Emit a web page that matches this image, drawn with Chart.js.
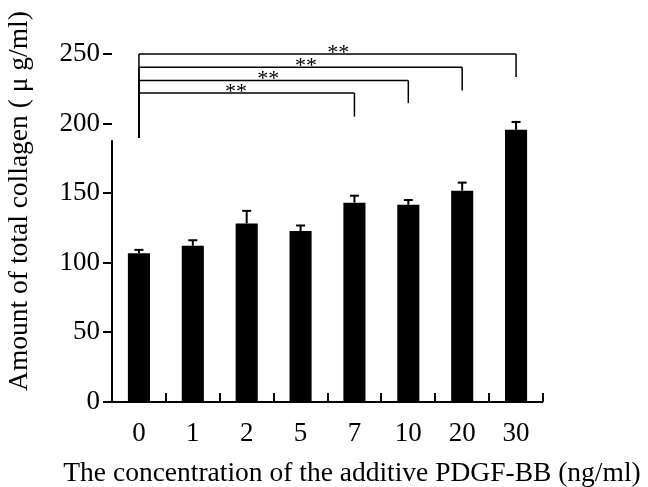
<!DOCTYPE html>
<html>
<head>
<meta charset="utf-8">
<script src="https://cdn.jsdelivr.net/npm/chart.js@4.4.1/dist/chart.umd.min.js"></script>
<style>
  html, body { margin: 0; padding: 0; background: #fff; }
  #wrap { width: 648px; height: 487px; position: relative; }
</style>
</head>
<body>
<div id="wrap"><canvas id="chartCollagen"></canvas></div>
<script>
// PDGF-BB concentrations (ng/ml) and measured collagen (µg/ml)
const categories = ['0', '1', '2', '5', '7', '10', '20', '30'];
const collagen = [106.8, 112.2, 128.3, 122.8, 143.2, 141.7, 151.8, 195.5];
const errorUp = [2.5, 4, 9, 4, 5, 3.4, 5.8, 5.7];
const yTicks = [0, 50, 100, 150, 200, 250];
const xTitle = 'The concentration of the additive PDGF-BB (ng/ml)';
const yTitle = 'Amount of total collagen ( μ g/ml)';

// significance brackets: group 0 vs these indices
const compareTo = [4, 5, 6, 7];
const bracketLevel = [222, 231, 240.5, 250];
const bracketDrop = [205, 214.7, 223.8, 233.4];
const starAt = [1.8, 2.4, 3.1, 3.7];
const bracketBase = 189.6;
const axisTop = 188;

const serif = "'Liberation Serif', 'Times New Roman', serif";
Chart.defaults.font.family = serif;
Chart.defaults.color = '#000';

function line(ctx, x1, y1, x2, y2) {
  ctx.beginPath();
  ctx.moveTo(x1, y1);
  ctx.lineTo(x2, y2);
  ctx.stroke();
}

// error bars, axis lines, inner ticks, brackets and axis titles
const overlay = {
  id: 'overlay',
  afterDatasetsDraw(chart) {
    const { ctx, scales: { x, y }, chartArea } = chart;
    ctx.save();
    ctx.strokeStyle = '#000';
    ctx.lineCap = 'butt';

    ctx.lineWidth = 2;
    collagen.forEach((v, i) => {
      const px = x.getPixelForValue(i);
      const top = y.getPixelForValue(v + errorUp[i]);
      line(ctx, px, y.getPixelForValue(v), px, top);
      line(ctx, px - 4.5, top, px + 4.5, top);
    });

    const y0 = y.getPixelForValue(0);
    line(ctx, chartArea.left, y0, chartArea.right, y0);
    line(ctx, chartArea.left, y0 + 1, chartArea.left, y.getPixelForValue(axisTop));
    for (let i = 0; i < categories.length; i++) {
      const px = Math.round(x.getPixelForValue(i + 0.5));
      line(ctx, px, y0, px, y0 - 9);
    }

    ctx.lineWidth = 1.5;
    const left = x.getPixelForValue(0);
    ctx.font = '22px ' + serif;
    ctx.textAlign = 'center';
    ctx.textBaseline = 'alphabetic';
    ctx.fillStyle = '#000';
    compareTo.forEach((j, k) => {
      const ly = y.getPixelForValue(bracketLevel[k]);
      const right = x.getPixelForValue(j);
      line(ctx, left, y.getPixelForValue(bracketBase), left, ly);
      line(ctx, left, ly, right, ly);
      line(ctx, right, ly, right, y.getPixelForValue(bracketDrop[k]));
      ctx.fillText('**', x.getPixelForValue(starAt[k]), ly + 5);
    });

    ctx.font = '27.5px ' + serif;
    ctx.fillText(xTitle, 352, 481);
    ctx.translate(27, (y0 + y.getPixelForValue(250)) / 2 - 27);
    ctx.rotate(-Math.PI / 2);
    ctx.fillText(yTitle, 0, 0);
    ctx.restore();
  }
};

new Chart(document.getElementById('chartCollagen').getContext('2d'), {
  type: 'bar',
  data: {
    labels: categories,
    datasets: [{
      data: collagen,
      backgroundColor: '#000',
      borderWidth: 0,
      barPercentage: 0.41,
      categoryPercentage: 1
    }]
  },
  options: {
    responsive: true,
    maintainAspectRatio: false,
    animation: false,
    layout: { padding: { top: 54, right: 105, left: 0, bottom: 0 } },
    plugins: { legend: { display: false }, tooltip: { enabled: false } },
    scales: {
      x: {
        grid: { display: false },
        border: { display: false },
        ticks: { font: { size: 27 }, padding: 8, color: '#000' },
        afterFit(scale) { scale.height = 85; }
      },
      y: {
        min: 0,
        max: 250,
        afterBuildTicks(scale) { scale.ticks = yTicks.map(v => ({ value: v })); },
        grid: { display: true, drawOnChartArea: false, drawTicks: true, tickLength: 9, color: '#000', lineWidth: 2 },
        border: { display: false },
        ticks: { font: { size: 27 }, padding: 3, color: '#000' },
        afterFit(scale) { scale.width = 112; }
      }
    }
  },
  plugins: [overlay]
});
</script>
</body>
</html>
